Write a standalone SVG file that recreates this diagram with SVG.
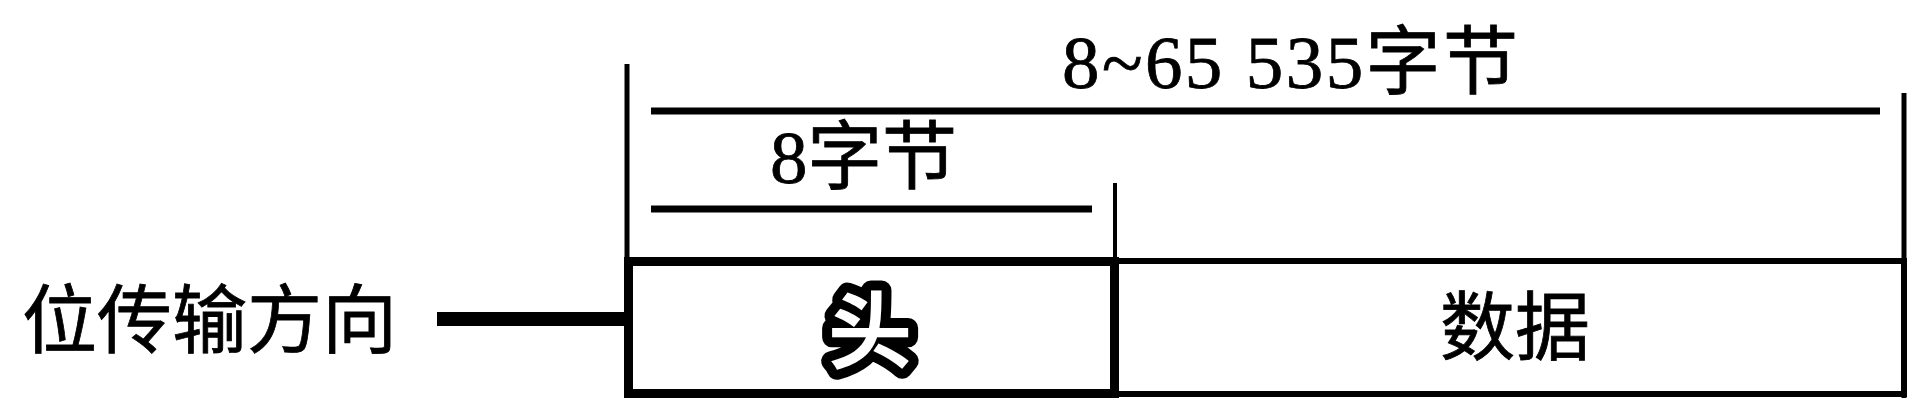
<svg xmlns="http://www.w3.org/2000/svg" width="1929" height="420" viewBox="0 0 1929 420">
  <style>
    .t { font-family: "Liberation Serif", "Noto Sans CJK SC", serif; font-size: 75px; fill: #000; stroke: #000; stroke-width: 0.8px; }
    .ln { stroke: #000; fill: none; stroke-linecap: butt; }
  </style>
  <rect x="0" y="0" width="1929" height="420" fill="#fff"/>
  <g id="connectors">
    <line class="ln" x1="627" y1="64" x2="627" y2="398" stroke-width="5"/>
    <line class="ln" x1="1904" y1="93" x2="1904" y2="398" stroke-width="5"/>
    <line class="ln" x1="651" y1="111" x2="1880" y2="111" stroke-width="7"/>
    <line class="ln" x1="651" y1="209" x2="1092" y2="209" stroke-width="7"/>
    <line class="ln" x1="1115" y1="183" x2="1115" y2="262" stroke-width="4"/>
    <line class="ln" x1="437" y1="319" x2="627" y2="319" stroke-width="14"/>
  </g>
  <g id="label-total">
    <text class="t" x="1062" y="88" textLength="456">8~65 535字节</text>
  </g>
  <g id="label-header-size">
    <text class="t" x="770" y="183" textLength="187">8字节</text>
  </g>
  <g id="label-direction">
    <text class="t" x="22" y="347" textLength="375">位传输方向</text>
  </g>
  <g id="data">
    <rect x="1115" y="261" width="789" height="133" fill="none" stroke="#000" stroke-width="6"/>
    <text class="t" x="1515" y="354" text-anchor="middle">数据</text>
  </g>
  <g id="header">
    <rect x="628.5" y="261.5" width="486" height="132" fill="none" stroke="#000" stroke-width="9"/>
    <text x="870" y="362" text-anchor="middle" style="font-family:'Noto Sans CJK SC',sans-serif;font-size:84px;font-weight:bold;fill:#fff;stroke:#000;stroke-width:20px;paint-order:stroke;stroke-linejoin:round">头</text>
  </g>
</svg>
